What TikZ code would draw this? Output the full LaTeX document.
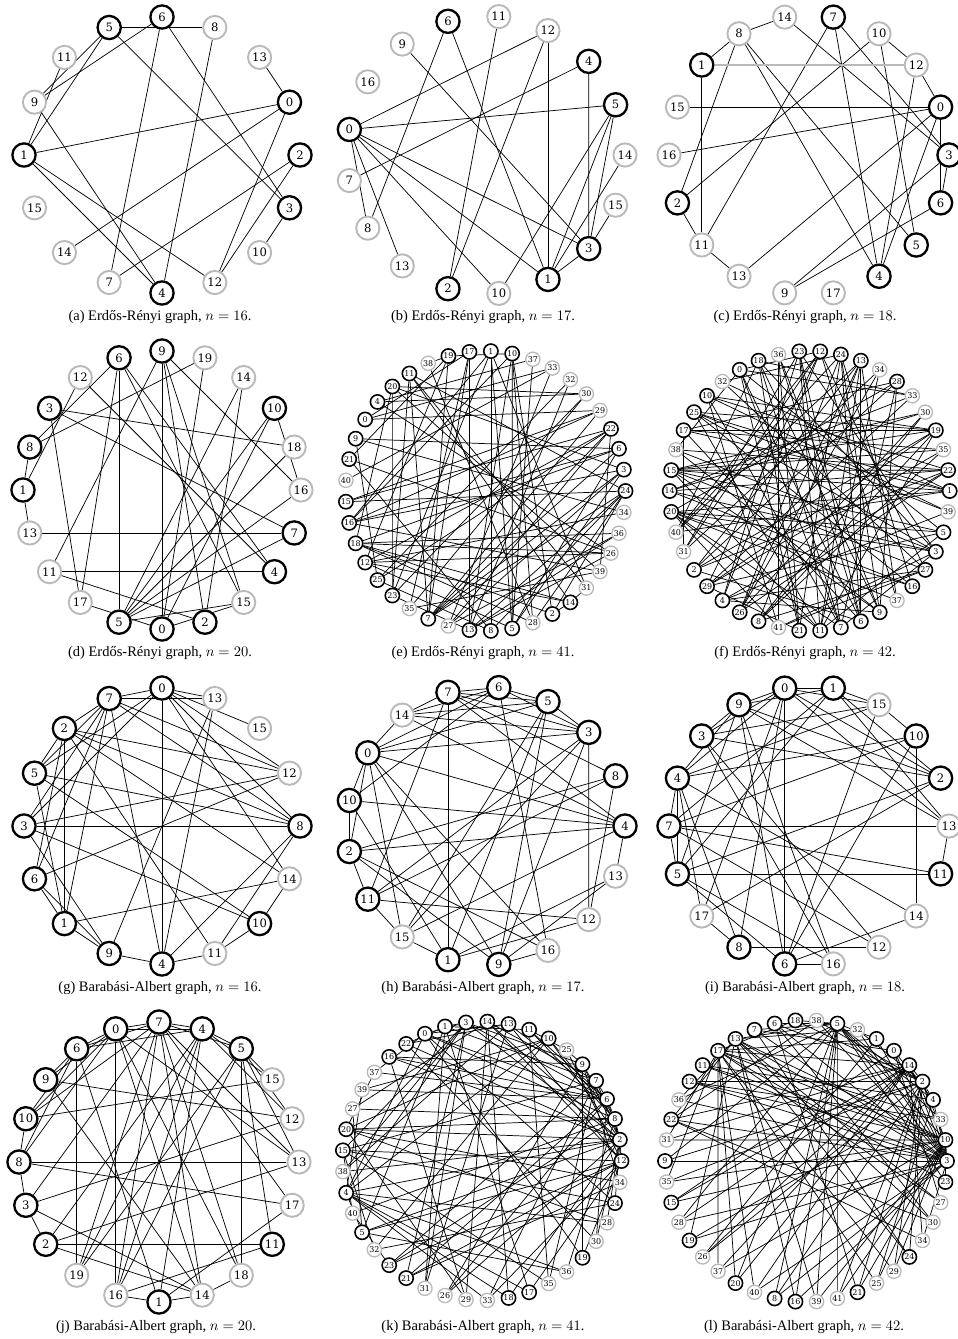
\documentclass[tikz,border=0pt]{standalone}
\usepackage{fontspec}
\setmainfont{Liberation Serif}
\newfontfamily\labfont{DejaVu Serif}
\pgfdeclarelayer{bglayer}
\pgfdeclarelayer{edgelayer}
\pgfsetlayers{bglayer,edgelayer,main}
\definecolor{ngray}{RGB}{185,185,185}
\tikzset{
  bigb/.style={circle,draw=black,line width=1.6pt,fill=white,minimum size=16pt,inner sep=0pt,font=\labfont\fontsize{8}{9}\selectfont},
  bigg/.style={bigb,draw=ngray,line width=1.3pt},
  smb/.style={circle,draw=black,line width=1.1pt,fill=white,minimum size=9.8pt,inner sep=0pt,font=\labfont\fontsize{5.5}{6}\selectfont},
  smg/.style={smb,draw=ngray,line width=0.9pt},
  edgeline/.style={line width=0.5pt,black},
  captext/.style={font=\fontsize{10}{12}\selectfont,inner sep=0pt}
}
\newcommand\circlay[8]{%
  \foreach \lab [count=\i from 0] in {#7} {%
    \pgfmathsetmacro\ang{360*\i/#5}%
    \ifnum\lab<#6\relax\def\st{#8b}\else\def\st{#8g}\fi
    \node[\st] (#1\lab) at ({#2+#4*cos(\ang)},{#3-#4*sin(\ang)}) {\lab};
  }}
\newcommand\drawedges[2]{%
  \begin{pgfonlayer}{edgelayer}
  \foreach \u/\v in {#2} \draw[edgeline] (#1\u) -- (#1\v);
  \end{pgfonlayer}}
\begin{document}
\begin{tikzpicture}[x=0.69pt,y=-0.69pt]
\begin{pgfonlayer}{bglayer}
\fill[white] (0,0) rectangle (958,1339);
\end{pgfonlayer}
\useasboundingbox (0,0) rectangle (958,1339);

% (a)
\circlay{a}{162}{155}{138}{16}{7}{2,0,13,8,6,5,11,9,1,15,14,7,4,12,10,3}{big}
\drawedges{a}{5/8,5/9,6/9,5/1,11/1,5/3,6/3,6/7,8/4,13/0,0/1,0/14,0/12,2/7,2/12,3/10,1/4,1/12,9/4}
\node[captext] (capa) at (160,317) {(a) Erdős-Rényi graph, $n = 16$.};

% (b)
\circlay{b}{486}{155}{139}{17}{7}{14,5,4,12,11,6,9,16,0,7,8,13,2,10,1,3,15}{big}
\drawedges{b}{0/12,0/5,0/8,0/13,0/10,0/1,0/3,7/4,6/8,6/1,9/3,11/2,12/2,12/1,4/3,5/10,5/1,5/3,14/1,15/3,3/1}
\node[captext] (capb) at (483,317) {(b) Erdős-Rényi graph, $n = 17$.};

% (c)
\circlay{c}{809}{155}{140}{18}{8}{3,0,12,10,7,14,8,1,15,16,2,11,13,9,17,4,5,6}{big}
\drawedges{c}{8/14,8/1,8/2,8/4,8/5,14/3,1/11,7/11,7/4,7/3,10/2,10/12,10/5,12/0,12/4,15/0,16/0,0/13,0/4,0/6,3/6,3/9,6/9,2/11,11/13}
\begin{pgfonlayer}{edgelayer}
\draw[ngray,line width=1pt] (c1) -- (c12);
\end{pgfonlayer}
\node[captext] (capc) at (805,317) {(c) Erdős-Rényi graph, $n = 18$.};

% (d)
\circlay{d}{162}{490}{139}{20}{11}{16,18,10,14,19,9,6,12,3,8,1,13,11,17,5,0,2,15,4,7}{big}
\drawedges{d}{6/8,12/1,6/17,6/5,6/4,6/15,9/11,9/0,9/2,9/15,9/16,19/8,19/0,14/5,14/2,10/5,10/0,10/16,18/5,16/5,7/5,3/17,3/18,3/7,12/4,8/1,1/13,13/7,11/4,11/2,17/0,5/15,0/15}
\node[captext] (capd) at (160,653) {(d) Erdős-Rényi graph, $n = 20$.};

% (e)
\circlay{e}{485.5}{491}{140}{41}{26}{24,3,6,22,29,30,32,33,37,10,1,17,19,38,11,20,4,0,9,21,40,15,16,18,12,25,23,35,7,27,13,8,5,28,2,14,31,39,26,36,34}{sm}
\drawedges{e}{18/26,12/26,18/36,18/14,18/28,18/2,15/22,15/29,16/29,16/6,1/5,1/8,10/5,10/28,10/13,10/2,17/13,17/7,7/6,7/24,7/3,7/22,7/11,13/24,13/26,13/36,8/24,5/3,5/6,23/20,23/11,23/1,23/30,20/3,20/30,11/31,11/24,25/22,25/9,38/19,19/10,19/12,19/7,0/29,0/33,4/30,4/37,4/26,9/6,9/34,21/19,21/26,40/33,15/24,16/39,18/20,12/14,12/5,25/8,23/13,35/17,35/39,27/3,27/22,2/14,2/24,14/31,31/1,39/22,36/27,34/12,28/24,3/16,6/18,22/12,29/7,30/35,32/25,32/13,33/27,37/5,1/16,17/0,10/16,21/8,38/28,20/39,11/14}
\node[captext] (cape) at (483,653) {(e) Erdős-Rényi graph, $n = 41$.};

% (f)
\circlay{f}{809.7}{491}{140}{42}{30}{1,22,35,19,30,33,28,34,13,24,12,23,36,18,0,32,10,25,17,38,15,14,20,40,31,2,29,4,26,8,41,21,11,7,6,9,37,16,27,3,5,39}{sm}
\drawedges{f}{0/12,0/7,0/21,0/33,0/5,1/17,1/20,1/25,1/15,2/22,2/19,2/13,2/6,3/14,3/20,3/38,3/23,4/27,4/9,4/12,4/22,5/15,5/20,5/29,6/36,6/17,6/24,6/13,7/18,7/23,7/28,7/20,8/19,8/27,8/35,9/15,9/24,9/36,10/22,10/19,10/39,10/7,11/23,11/13,11/15,11/20,12/29,12/27,12/31,13/40,13/37,14/22,14/30,14/16,15/22,15/19,15/35,16/20,16/24,16/25,17/19,17/35,17/31,18/3,18/33,18/9,19/29,19/25,20/28,20/37,20/41,21/24,21/18,21/36,22/38,22/26,23/6,23/4,23/31,24/40,24/26,25/3,25/11,26/30,26/13,27/15,27/32,28/17,28/2,29/33,29/21,30/8,30/15,31/34,32/1,32/24,33/14,34/26,34/11,35/29,36/41,37/12,38/9,38/0,39/25,39/4,40/12,40/1,41/27,41/3,6/0,7/3,8/13,9/28,10/41,11/5,18/40,19/11}
\node[captext] (capf) at (805,653) {(f) Erdős-Rényi graph, $n = 42$.};

% (g)
\circlay{g}{162}{826}{138}{16}{11}{8,12,15,13,0,7,2,5,3,6,1,9,4,11,10,14}{big}
\drawedges{g}{0/7,0/13,0/15,0/12,0/8,0/14,0/4,0/5,0/3,7/13,7/2,7/5,7/6,7/1,7/3,7/4,7/12,7/8,2/5,2/1,2/6,2/12,2/8,2/14,2/11,5/8,5/10,5/1,3/8,3/12,3/10,3/9,6/12,6/1,6/9,1/14,1/9,9/4,9/13,4/11,4/8,4/13,11/8,11/10,14/10}
\node[captext] (capg) at (160,988) {(g) Barabási-Albert graph, $n = 16$.};

% (h)
\circlay{h}{486}{826}{139}{17}{12}{4,8,3,5,6,7,14,0,10,2,11,15,1,9,16,12,13}{big}
\drawedges{h}{7/6,7/5,7/14,7/3,7/8,7/1,7/11,7/4,6/5,6/3,6/0,6/10,6/16,6/14,5/14,5/3,5/0,5/1,5/9,5/15,14/0,14/3,14/4,3/0,3/12,3/11,3/15,3/9,0/10,0/2,0/4,0/15,0/9,0/16,8/2,8/11,8/12,10/2,10/4,10/1,2/4,2/11,2/9,2/16,4/13,4/15,11/15,11/12,13/1,13/9,12/1,15/1,9/16}
\node[captext] (caph) at (483,988) {(h) Barabási-Albert graph, $n = 17$.};

% (i)
\circlay{i}{809}{826}{140}{18}{12}{13,2,10,15,1,0,9,3,4,7,5,17,8,6,16,12,14,11}{big}
\drawedges{i}{0/1,0/9,0/15,0/2,0/6,0/3,0/4,0/17,0/8,0/13,1/9,1/15,1/2,1/13,1/7,1/5,9/3,9/4,9/2,9/13,9/6,9/16,9/5,15/3,15/4,15/10,15/6,3/2,3/12,3/16,10/4,10/14,10/7,10/6,4/7,4/5,4/17,4/8,4/14,2/5,2/17,7/13,7/11,7/12,7/5,5/11,5/16,5/6,13/11,17/8,14/6,8/12,6/16}
\node[captext] (capi) at (805,988) {(i) Barabási-Albert graph, $n = 18$.};

% (j)
\circlay{j}{159}{1162}{140}{20}{12}{13,12,15,5,4,7,0,6,9,10,8,3,2,19,16,1,14,18,11,17}{big}
\drawedges{j}{0/7,0/4,0/6,0/9,0/10,0/8,0/16,0/14,0/13,0/18,7/4,7/6,7/5,7/10,7/3,7/19,7/16,7/14,7/18,7/13,7/17,4/6,4/5,4/15,4/12,4/2,4/19,4/16,4/1,5/15,5/12,5/13,5/11,5/18,5/16,5/19,6/9,6/10,6/19,6/8,6/1,9/12,9/14,10/8,10/15,8/3,8/13,8/17,3/2,3/12,3/14,2/11,2/14,2/13,16/1,16/11,1/14,1/17,14/18}
\node[captext] (capj) at (156,1327) {(j) Barabási-Albert graph, $n = 20$.};

% (k)
\circlay{k}{482}{1161}{139.5}{41}{25}{12,2,8,6,7,9,25,10,11,13,14,3,1,0,22,16,37,39,27,20,15,38,4,40,5,32,23,21,31,26,29,33,18,17,35,36,19,30,28,24,34}{sm}
\drawedges{k}{3/0,3/1,3/2,4/0,4/2,4/3,5/2,5/1,5/4,6/2,6/0,6/3,7/2,7/6,7/1,8/2,8/6,8/0,9/2,9/8,9/3,10/8,10/2,10/4,11/6,11/8,11/1,12/2,12/8,12/5,13/12,13/6,13/0,14/2,14/12,14/7,15/12,15/7,15/3,16/2,16/6,16/9,17/12,17/4,17/1,18/2,18/4,18/14,19/12,19/9,19/0,20/8,20/2,20/10,21/12,21/3,21/6,22/2,22/1,22/13,23/8,23/12,23/7,24/2,24/0,24/15,25/12,25/9,25/11,26/2,26/6,26/9,27/8,27/14,27/5,28/2,28/20,28/4,29/14,29/20,29/16,30/6,30/2,30/22,31/1,31/13,31/3,32/15,32/24,32/10,33/7,33/12,33/4,34/20,34/9,34/21,35/11,35/15,35/7,36/8,36/4,36/5,37/6,37/0,37/20,38/2,38/3,38/13,39/10,39/6,39/4,40/8,40/15,40/23}
\node[captext] (capk) at (483,1327) {(k) Barabási-Albert graph, $n = 41$.};

% (l)
\circlay{l}{806}{1161}{141}{42}{25}{3,10,33,4,2,14,0,1,32,5,38,18,6,7,13,17,11,12,36,22,31,9,35,15,28,19,26,37,20,40,8,16,39,41,21,25,29,24,34,30,27,23}{sm}
\drawedges{l}{3/0,3/1,3/2,4/0,4/2,4/3,5/3,5/1,5/4,6/3,6/5,6/2,7/5,7/3,7/0,8/3,8/2,8/5,9/3,9/5,9/2,10/3,10/2,10/5,11/3,11/10,11/4,12/10,12/3,12/2,13/5,13/10,13/3,14/2,14/10,14/3,15/10,15/0,15/14,16/5,16/3,16/13,17/10,17/1,17/14,18/2,18/17,18/5,19/3,19/4,19/13,20/14,20/17,20/5,21/10,21/6,21/2,22/3,22/14,22/13,23/17,23/10,23/5,24/2,24/7,24/13,25/10,25/17,25/4,26/1,26/14,26/2,27/13,27/0,27/17,28/3,28/5,28/14,29/10,29/2,29/17,30/6,30/13,30/22,31/17,31/10,31/14,32/3,32/2,32/13,33/12,33/5,33/17,34/14,34/3,34/22,35/10,35/17,35/2,36/3,36/13,36/5,37/14,37/10,37/17,38/3,38/2,38/22,39/13,39/5,39/10,40/17,40/3,40/14,41/10,41/2,41/5}
\node[captext] (capl) at (804,1327) {(l) Barabási-Albert graph, $n = 42$.};
\end{tikzpicture}
\end{document}
